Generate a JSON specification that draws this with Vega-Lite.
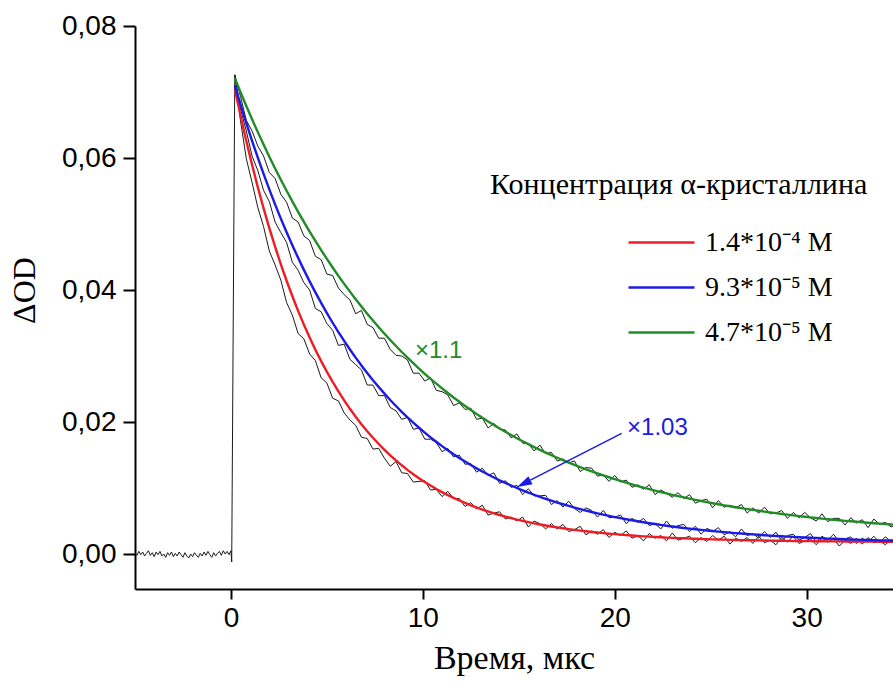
{
  "$schema": "https://vega.github.io/schema/vega-lite/v6.json",
  "width": 758,
  "height": 563,
  "autosize": {"type": "none"},
  "padding": {"left": 135, "top": 26, "right": 0, "bottom": 98},
  "background": "white",
  "config": {"view": {"stroke": null}},
  "datasets": {
    "base": [
      {"t":-5.0,"v":0.0002},{"t":-4.9,"v":-0.0002},{"t":-4.8,"v":0.0004},{"t":-4.7,"v":-0.0001},{"t":-4.6,"v":0.0003},{"t":-4.5,"v":-0.0003},{"t":-4.4,"v":0.0001},{"t":-4.3,"v":0.0005},{"t":-4.2,"v":-0.0002},{"t":-4.1,"v":0.0002},
      {"t":-4.0,"v":-0.0004},{"t":-3.9,"v":0.0003},{"t":-3.8,"v":-0.0001},{"t":-3.7,"v":0.0004},{"t":-3.6,"v":-0.0003},{"t":-3.5,"v":0.0},{"t":-3.4,"v":-0.0005},{"t":-3.3,"v":0.0002},{"t":-3.2,"v":-0.0002},{"t":-3.1,"v":0.0003},
      {"t":-3.0,"v":-0.0004},{"t":-2.9,"v":0.0001},{"t":-2.8,"v":-0.0003},{"t":-2.7,"v":0.0003},{"t":-2.6,"v":-0.0001},{"t":-2.5,"v":-0.0005},{"t":-2.4,"v":0.0002},{"t":-2.3,"v":-0.0003},{"t":-2.2,"v":-0.0006},{"t":-2.1,"v":0.0},
      {"t":-2.0,"v":-0.0004},{"t":-1.9,"v":0.0002},{"t":-1.8,"v":-0.0002},{"t":-1.7,"v":-0.0005},{"t":-1.6,"v":0.0001},{"t":-1.5,"v":-0.0003},{"t":-1.4,"v":0.0003},{"t":-1.3,"v":-0.0002},{"t":-1.2,"v":0.0004},{"t":-1.1,"v":-0.0001},
      {"t":-1.0,"v":-0.0005},{"t":-0.9,"v":0.0002},{"t":-0.8,"v":-0.0003},{"t":-0.7,"v":0.0001},{"t":-0.6,"v":0.0004},{"t":-0.5,"v":-0.0002},{"t":-0.4,"v":0.0005},{"t":-0.3,"v":0.0},{"t":-0.2,"v":0.0004},{"t":-0.1,"v":-0.0001},
      {"t":0.0,"v":0.0005},{"t":0.04,"v":-0.0012},{"t":0.2,"v":0.0726}
    ],
    "main": [
      {"t":0.2,"r":0.07050,"b":0.07100,"g":0.07210,"rd":0.0726,"bd":0.0726,"gd":0.0726},
      {"t":0.5,"r":0.06642,"b":0.06808,"g":0.06996,"rd":0.0656,"bd":0.0674,"gd":0.0693},
      {"t":0.8,"r":0.06258,"b":0.06529,"g":0.06788,"rd":0.0599,"bd":0.0641,"gd":0.0657},
      {"t":1.1,"r":0.05897,"b":0.06261,"g":0.06587,"rd":0.0563,"bd":0.0603,"gd":0.0641},
      {"t":1.4,"r":0.05558,"b":0.06005,"g":0.06392,"rd":0.0525,"bd":0.0581,"gd":0.0618},
      {"t":1.7,"r":0.05239,"b":0.05759,"g":0.06203,"rd":0.0496,"bd":0.0551,"gd":0.0603},
      {"t":2.0,"r":0.04938,"b":0.05524,"g":0.06020,"rd":0.0459,"bd":0.0534,"gd":0.0578},
      {"t":2.3,"r":0.04656,"b":0.05298,"g":0.05842,"rd":0.0438,"bd":0.0503,"gd":0.0569},
      {"t":2.6,"r":0.04390,"b":0.05082,"g":0.05670,"rd":0.0415,"bd":0.0487,"gd":0.0545},
      {"t":2.9,"r":0.04140,"b":0.04875,"g":0.05503,"rd":0.0381,"bd":0.0472,"gd":0.0533},
      {"t":3.2,"r":0.03905,"b":0.04677,"g":0.05342,"rd":0.0362,"bd":0.0442,"gd":0.0509},
      {"t":3.5,"r":0.03684,"b":0.04487,"g":0.05185,"rd":0.0334,"bd":0.0430,"gd":0.0503},
      {"t":3.8,"r":0.03476,"b":0.04305,"g":0.05033,"rd":0.0326,"bd":0.0411,"gd":0.0482},
      {"t":4.1,"r":0.03280,"b":0.04131,"g":0.04886,"rd":0.0303,"bd":0.0400,"gd":0.0475},
      {"t":4.4,"r":0.03096,"b":0.03964,"g":0.04743,"rd":0.0293,"bd":0.0372,"gd":0.0451},
      {"t":4.7,"r":0.02923,"b":0.03804,"g":0.04605,"rd":0.0267,"bd":0.0367,"gd":0.0446},
      {"t":5.0,"r":0.02760,"b":0.03651,"g":0.04471,"rd":0.0259,"bd":0.0349,"gd":0.0424},
      {"t":5.3,"r":0.02607,"b":0.03504,"g":0.04341,"rd":0.0236,"bd":0.0339,"gd":0.0422},
      {"t":5.6,"r":0.02463,"b":0.03363,"g":0.04215,"rd":0.0232,"bd":0.0316,"gd":0.0403},
      {"t":5.9,"r":0.02327,"b":0.03228,"g":0.04093,"rd":0.0214,"bd":0.0318,"gd":0.0393},
      {"t":6.2,"r":0.02200,"b":0.03099,"g":0.03975,"rd":0.0203,"bd":0.0295,"gd":0.0385},
      {"t":6.5,"r":0.02080,"b":0.02975,"g":0.03860,"rd":0.0195,"bd":0.0287,"gd":0.0364},
      {"t":6.8,"r":0.01967,"b":0.02857,"g":0.03749,"rd":0.0177,"bd":0.0279,"gd":0.0369},
      {"t":7.1,"r":0.01861,"b":0.02743,"g":0.03641,"rd":0.0175,"bd":0.0256,"gd":0.0348},
      {"t":7.4,"r":0.01761,"b":0.02634,"g":0.03537,"rd":0.0159,"bd":0.0256,"gd":0.0343},
      {"t":7.7,"r":0.01667,"b":0.02530,"g":0.03436,"rd":0.0160,"bd":0.0240,"gd":0.0327},
      {"t":8.0,"r":0.01579,"b":0.02430,"g":0.03338,"rd":0.0145,"bd":0.0240,"gd":0.0327},
      {"t":8.3,"r":0.01496,"b":0.02334,"g":0.03243,"rd":0.0133,"bd":0.0222,"gd":0.0310},
      {"t":8.6,"r":0.01418,"b":0.02243,"g":0.03151,"rd":0.0140,"bd":0.0217,"gd":0.0301},
      {"t":8.9,"r":0.01344,"b":0.02155,"g":0.03061,"rd":0.0123,"bd":0.0204,"gd":0.0300},
      {"t":9.2,"r":0.01275,"b":0.02071,"g":0.02975,"rd":0.0122,"bd":0.0207,"gd":0.0294},
      {"t":9.5,"r":0.01210,"b":0.01990,"g":0.02891,"rd":0.0109,"bd":0.0189,"gd":0.0274},
      {"t":9.8,"r":0.01149,"b":0.01913,"g":0.02810,"rd":0.0110,"bd":0.0191,"gd":0.0274},
      {"t":10.1,"r":0.01091,"b":0.01839,"g":0.02731,"rd":0.0111,"bd":0.0174,"gd":0.0262},
      {"t":10.4,"r":0.01037,"b":0.01768,"g":0.02655,"rd":0.0097,"bd":0.0174,"gd":0.0267},
      {"t":10.7,"r":0.00986,"b":0.01700,"g":0.02581,"rd":0.0098,"bd":0.0169,"gd":0.0248},
      {"t":11.0,"r":0.00938,"b":0.01635,"g":0.02509,"rd":0.0087,"bd":0.0155,"gd":0.0246},
      {"t":11.3,"r":0.00893,"b":0.01573,"g":0.02440,"rd":0.0095,"bd":0.0160,"gd":0.0241},
      {"t":11.6,"r":0.00851,"b":0.01513,"g":0.02372,"rd":0.0084,"bd":0.0147,"gd":0.0225},
      {"t":11.9,"r":0.00811,"b":0.01456,"g":0.02307,"rd":0.0084,"bd":0.0150,"gd":0.0229},
      {"t":12.2,"r":0.00774,"b":0.01401,"g":0.02244,"rd":0.0072,"bd":0.0136,"gd":0.0219},
      {"t":12.5,"r":0.00738,"b":0.01349,"g":0.02182,"rd":0.0078,"bd":0.0137,"gd":0.0221},
      {"t":12.8,"r":0.00705,"b":0.01298,"g":0.02123,"rd":0.0068,"bd":0.0124,"gd":0.0204},
      {"t":13.1,"r":0.00674,"b":0.01250,"g":0.02065,"rd":0.0074,"bd":0.0130,"gd":0.0206},
      {"t":13.4,"r":0.00645,"b":0.01204,"g":0.02009,"rd":0.0059,"bd":0.0119,"gd":0.0191},
      {"t":13.7,"r":0.00617,"b":0.01160,"g":0.01955,"rd":0.0062,"bd":0.0123,"gd":0.0198},
      {"t":14.0,"r":0.00591,"b":0.01117,"g":0.01903,"rd":0.0064,"bd":0.0107,"gd":0.0189},
      {"t":14.3,"r":0.00567,"b":0.01077,"g":0.01852,"rd":0.0053,"bd":0.0111,"gd":0.0188},
      {"t":14.6,"r":0.00544,"b":0.01038,"g":0.01803,"rd":0.0056,"bd":0.0101,"gd":0.0176},
      {"t":14.9,"r":0.00522,"b":0.01000,"g":0.01755,"rd":0.0050,"bd":0.0104,"gd":0.0182},
      {"t":15.2,"r":0.00502,"b":0.00965,"g":0.01709,"rd":0.0056,"bd":0.0090,"gd":0.0168},
      {"t":15.5,"r":0.00483,"b":0.00931,"g":0.01664,"rd":0.0041,"bd":0.0099,"gd":0.0167},
      {"t":15.8,"r":0.00465,"b":0.00898,"g":0.01620,"rd":0.0050,"bd":0.0088,"gd":0.0156},
      {"t":16.1,"r":0.00448,"b":0.00866,"g":0.01578,"rd":0.0046,"bd":0.0088,"gd":0.0165},
      {"t":16.4,"r":0.00432,"b":0.00836,"g":0.01537,"rd":0.0038,"bd":0.0089,"gd":0.0152},
      {"t":16.7,"r":0.00417,"b":0.00808,"g":0.01498,"rd":0.0046,"bd":0.0075,"gd":0.0154},
      {"t":17.0,"r":0.00403,"b":0.00780,"g":0.01459,"rd":0.0038,"bd":0.0081,"gd":0.0141},
      {"t":17.3,"r":0.00390,"b":0.00754,"g":0.01422,"rd":0.0045,"bd":0.0071,"gd":0.0144},
      {"t":17.6,"r":0.00377,"b":0.00728,"g":0.01386,"rd":0.0034,"bd":0.0080,"gd":0.0138},
      {"t":17.9,"r":0.00365,"b":0.00704,"g":0.01351,"rd":0.0037,"bd":0.0069,"gd":0.0141},
      {"t":18.2,"r":0.00354,"b":0.00681,"g":0.01317,"rd":0.0042,"bd":0.0063,"gd":0.0125},
      {"t":18.5,"r":0.00344,"b":0.00658,"g":0.01284,"rd":0.0029,"bd":0.0070,"gd":0.0131},
      {"t":18.8,"r":0.00334,"b":0.00637,"g":0.01252,"rd":0.0035,"bd":0.0066,"gd":0.0130},
      {"t":19.1,"r":0.00325,"b":0.00617,"g":0.01221,"rd":0.0030,"bd":0.0056,"gd":0.0118},
      {"t":19.4,"r":0.00316,"b":0.00597,"g":0.01192,"rd":0.0037,"bd":0.0066,"gd":0.0120},
      {"t":19.7,"r":0.00308,"b":0.00578,"g":0.01163,"rd":0.0025,"bd":0.0055,"gd":0.0110},
      {"t":20.0,"r":0.00301,"b":0.00560,"g":0.01134,"rd":0.0033,"bd":0.0056,"gd":0.0119},
      {"t":20.3,"r":0.00294,"b":0.00543,"g":0.01107,"rd":0.0028,"bd":0.0059,"gd":0.0109},
      {"t":20.6,"r":0.00287,"b":0.00527,"g":0.01081,"rd":0.0035,"bd":0.0046,"gd":0.0112},
      {"t":20.9,"r":0.00280,"b":0.00511,"g":0.01055,"rd":0.0024,"bd":0.0054,"gd":0.0101},
      {"t":21.2,"r":0.00274,"b":0.00496,"g":0.01030,"rd":0.0028,"bd":0.0048,"gd":0.0105},
      {"t":21.5,"r":0.00268,"b":0.00481,"g":0.01006,"rd":0.0020,"bd":0.0054,"gd":0.0098},
      {"t":21.8,"r":0.00263,"b":0.00467,"g":0.00983,"rd":0.0031,"bd":0.0043,"gd":0.0105},
      {"t":22.1,"r":0.00258,"b":0.00454,"g":0.00961,"rd":0.0024,"bd":0.0046,"gd":0.0090},
      {"t":22.4,"r":0.00254,"b":0.00441,"g":0.00939,"rd":0.0028,"bd":0.0038,"gd":0.0097},
      {"t":22.7,"r":0.00249,"b":0.00429,"g":0.00918,"rd":0.0020,"bd":0.0050,"gd":0.0092},
      {"t":23.0,"r":0.00245,"b":0.00417,"g":0.00897,"rd":0.0032,"bd":0.0039,"gd":0.0086},
      {"t":23.3,"r":0.00241,"b":0.00406,"g":0.00877,"rd":0.0021,"bd":0.0043,"gd":0.0093},
      {"t":23.6,"r":0.00238,"b":0.00395,"g":0.00858,"rd":0.0024,"bd":0.0045,"gd":0.0084},
      {"t":23.9,"r":0.00234,"b":0.00385,"g":0.00839,"rd":0.0027,"bd":0.0034,"gd":0.0090},
      {"t":24.2,"r":0.00231,"b":0.00375,"g":0.00821,"rd":0.0017,"bd":0.0042,"gd":0.0077},
      {"t":24.5,"r":0.00228,"b":0.00366,"g":0.00803,"rd":0.0025,"bd":0.0030,"gd":0.0081},
      {"t":24.8,"r":0.00225,"b":0.00357,"g":0.00786,"rd":0.0019,"bd":0.0039,"gd":0.0083},
      {"t":25.1,"r":0.00222,"b":0.00348,"g":0.00770,"rd":0.0028,"bd":0.0034,"gd":0.0070},
      {"t":25.4,"r":0.00220,"b":0.00340,"g":0.00754,"rd":0.0021,"bd":0.0040,"gd":0.0081},
      {"t":25.7,"r":0.00218,"b":0.00332,"g":0.00738,"rd":0.0027,"bd":0.0029,"gd":0.0071},
      {"t":26.0,"r":0.00215,"b":0.00324,"g":0.00723,"rd":0.0015,"bd":0.0034,"gd":0.0074},
      {"t":26.3,"r":0.00213,"b":0.00317,"g":0.00709,"rd":0.0024,"bd":0.0026,"gd":0.0070},
      {"t":26.6,"r":0.00211,"b":0.00310,"g":0.00695,"rd":0.0019,"bd":0.0038,"gd":0.0075},
      {"t":26.9,"r":0.00209,"b":0.00303,"g":0.00681,"rd":0.0025,"bd":0.0028,"gd":0.0062},
      {"t":27.2,"r":0.00208,"b":0.00297,"g":0.00668,"rd":0.0016,"bd":0.0031,"gd":0.0070},
      {"t":27.5,"r":0.00206,"b":0.00291,"g":0.00655,"rd":0.0027,"bd":0.0024,"gd":0.0062},
      {"t":27.8,"r":0.00204,"b":0.00285,"g":0.00642,"rd":0.0017,"bd":0.0034,"gd":0.0071},
      {"t":28.1,"r":0.00203,"b":0.00279,"g":0.00630,"rd":0.0021,"bd":0.0025,"gd":0.0061},
      {"t":28.4,"r":0.00202,"b":0.00274,"g":0.00619,"rd":0.0014,"bd":0.0033,"gd":0.0062},
      {"t":28.7,"r":0.00200,"b":0.00269,"g":0.00607,"rd":0.0025,"bd":0.0020,"gd":0.0066},
      {"t":29.0,"r":0.00199,"b":0.00264,"g":0.00596,"rd":0.0018,"bd":0.0028,"gd":0.0054},
      {"t":29.3,"r":0.00198,"b":0.00259,"g":0.00586,"rd":0.0027,"bd":0.0030,"gd":0.0063},
      {"t":29.6,"r":0.00197,"b":0.00254,"g":0.00575,"rd":0.0016,"bd":0.0021,"gd":0.0055},
      {"t":29.9,"r":0.00196,"b":0.00250,"g":0.00565,"rd":0.0020,"bd":0.0025,"gd":0.0063},
      {"t":30.2,"r":0.00195,"b":0.00246,"g":0.00556,"rd":0.0023,"bd":0.0031,"gd":0.0055},
      {"t":30.5,"r":0.00194,"b":0.00242,"g":0.00546,"rd":0.0014,"bd":0.0018,"gd":0.0050},
      {"t":30.8,"r":0.00193,"b":0.00238,"g":0.00537,"rd":0.0025,"bd":0.0027,"gd":0.0061},
      {"t":31.1,"r":0.00192,"b":0.00234,"g":0.00528,"rd":0.0018,"bd":0.0021,"gd":0.0049},
      {"t":31.4,"r":0.00192,"b":0.00231,"g":0.00520,"rd":0.0023,"bd":0.0030,"gd":0.0054},
      {"t":31.7,"r":0.00191,"b":0.00227,"g":0.00511,"rd":0.0012,"bd":0.0018,"gd":0.0054},
      {"t":32.0,"r":0.00190,"b":0.00224,"g":0.00503,"rd":0.0021,"bd":0.0023,"gd":0.0044},
      {"t":32.3,"r":0.00190,"b":0.00221,"g":0.00496,"rd":0.0016,"bd":0.0026,"gd":0.0055},
      {"t":32.6,"r":0.00189,"b":0.00218,"g":0.00488,"rd":0.0024,"bd":0.0016,"gd":0.0047},
      {"t":32.9,"r":0.00189,"b":0.00215,"g":0.00481,"rd":0.0015,"bd":0.0024,"gd":0.0052},
      {"t":33.2,"r":0.00188,"b":0.00212,"g":0.00474,"rd":0.0025,"bd":0.0018,"gd":0.0040},
      {"t":33.5,"r":0.00188,"b":0.00210,"g":0.00467,"rd":0.0017,"bd":0.0027,"gd":0.0053},
      {"t":33.8,"r":0.00187,"b":0.00207,"g":0.00460,"rd":0.0020,"bd":0.0017,"gd":0.0045},
      {"t":34.1,"r":0.00187,"b":0.00205,"g":0.00454,"rd":0.0014,"bd":0.0026,"gd":0.0048},
      {"t":34.4,"r":0.00186,"b":0.00203,"g":0.00447,"rd":0.0022,"bd":0.0019,"gd":0.0041},
      {"t":34.7,"r":0.00186,"b":0.00201,"g":0.00441,"rd":0.0018,"bd":0.0022,"gd":0.0046}
    ]
  },
  "layer": [
    {
      "data": {"name": "base"},
      "mark": {"type": "line", "color": "#1a1a1a", "strokeWidth": 1, "clip": true},
      "encoding": {
        "x": {
          "field": "t", "type": "quantitative", "title": "Время, мкс",
          "scale": {"domain": [-5, 34.5], "nice": false, "zero": false},
          "axis": {
            "values": [0, 10, 20, 30], "grid": false,
            "domainColor": "#000000", "domainWidth": 2,
            "tickColor": "#000000", "tickWidth": 2, "tickSize": 10,
            "labelFont": "Liberation Sans", "labelFontSize": 28, "labelColor": "#000000", "labelPadding": 5,
            "labelFlush": false, "labelOverlap": false,
            "titleFont": "Liberation Serif", "titleFontSize": 34, "titleFontWeight": "normal", "titleColor": "#000000",
            "titlePadding": 9
          }
        },
        "y": {
          "field": "v", "type": "quantitative", "title": "ΔOD",
          "scale": {"domain": [-0.0053, 0.08], "nice": false, "zero": false},
          "axis": {
            "values": [0, 0.02, 0.04, 0.06, 0.08], "grid": false,
            "labelExpr": "replace(format(datum.value, '.2f'), '.', ',')",
            "domainColor": "#000000", "domainWidth": 2,
            "tickColor": "#000000", "tickWidth": 2, "tickSize": 12,
            "labelFont": "Liberation Sans", "labelFontSize": 28, "labelColor": "#000000", "labelPadding": 7,
            "labelFlush": false, "labelOverlap": false,
            "titleFont": "Liberation Serif", "titleFontSize": 32, "titleFontWeight": "normal", "titleColor": "#000000",
            "titleAngle": -90, "titleAlign": "center", "titleBaseline": "alphabetic", "titleX": -101, "titleY": 264
          }
        }
      }
    },
    {
      "data": {"name": "main"},
      "transform": [{"fold": ["rd", "bd", "gd"], "as": ["s", "v"]}],
      "mark": {"type": "line", "color": "#1a1a1a", "strokeWidth": 1, "clip": true},
      "encoding": {
        "x": {"field": "t", "type": "quantitative", "title": "Время, мкс"},
        "y": {"field": "v", "type": "quantitative", "title": "ΔOD"},
        "detail": {"field": "s", "type": "nominal"}
      }
    },
    {
      "data": {"name": "main"},
      "transform": [{"fold": ["r", "b", "g"], "as": ["s", "v"]}],
      "mark": {"type": "line", "strokeWidth": 2.4, "clip": true},
      "encoding": {
        "x": {"field": "t", "type": "quantitative", "title": "Время, мкс"},
        "y": {"field": "v", "type": "quantitative", "title": "ΔOD"},
        "color": {
          "field": "s", "type": "nominal",
          "scale": {"domain": ["r", "b", "g"], "range": ["#ee1c24", "#1b1be6", "#1f8c26"]},
          "legend": {
            "title": null, "orient": "none", "legendX": 492, "legendY": 194,
            "padding": 0, "symbolType": "stroke", "symbolSize": 4356, "symbolStrokeWidth": 2.4,
            "labelFont": "Liberation Serif", "labelFontSize": 28, "labelColor": "#000000", "labelOffset": 9,
            "rowPadding": 0, "clipHeight": 45, "labelLimit": 400,
            "labelExpr": "datum.label == 'r' ? '1.4*10⁻⁴ М' : datum.label == 'b' ? '9.3*10⁻⁵ М' : '4.7*10⁻⁵ М'"
          }
        }
      }
    },
    {
      "data": {"values": [{"label": "Концентрация α-кристаллина"}]},
      "mark": {"type": "text", "font": "Liberation Serif", "fontSize": 30, "align": "left", "baseline": "alphabetic", "color": "#000000"},
      "encoding": {
        "x": {"datum": 13.5, "type": "quantitative", "title": "Время, мкс"},
        "y": {"datum": 0.0545, "type": "quantitative", "title": "ΔOD"},
        "text": {"field": "label", "type": "nominal"}
      }
    },
    {
      "data": {"values": [{"label": "×1.1"}]},
      "mark": {"type": "text", "font": "Liberation Sans", "fontSize": 24, "align": "left", "baseline": "alphabetic", "color": "#1f8c26"},
      "encoding": {
        "x": {"datum": 9.59, "type": "quantitative", "title": "Время, мкс"},
        "y": {"datum": 0.0297, "type": "quantitative", "title": "ΔOD"},
        "text": {"field": "label", "type": "nominal"}
      }
    },
    {
      "data": {"values": [{"label": "×1.03"}]},
      "mark": {"type": "text", "font": "Liberation Sans", "fontSize": 24, "align": "left", "baseline": "alphabetic", "color": "#1b1be6"},
      "encoding": {
        "x": {"datum": 20.64, "type": "quantitative", "title": "Время, мкс"},
        "y": {"datum": 0.0180, "type": "quantitative", "title": "ΔOD"},
        "text": {"field": "label", "type": "nominal"}
      }
    },
    {
      "data": {"values": [{"label": "arrow"}]},
      "mark": {"type": "rule", "color": "#1b1be6", "strokeWidth": 1.5},
      "encoding": {
        "x": {"datum": 20.36, "type": "quantitative", "title": "Время, мкс"},
        "y": {"datum": 0.01829, "type": "quantitative", "title": "ΔOD"},
        "x2": {"datum": 15.6},
        "y2": {"datum": 0.0112}
      }
    },
    {
      "data": {"values": [{"label": "arrowhead"}]},
      "mark": {"type": "point", "shape": "M0,-1L0.6,1L-0.6,1Z", "filled": true, "color": "#1b1be6", "size": 225, "angle": 243, "opacity": 1},
      "encoding": {
        "x": {"datum": 15.26, "type": "quantitative", "title": "Время, мкс"},
        "y": {"datum": 0.01067, "type": "quantitative", "title": "ΔOD"}
      }
    }
  ]
}
